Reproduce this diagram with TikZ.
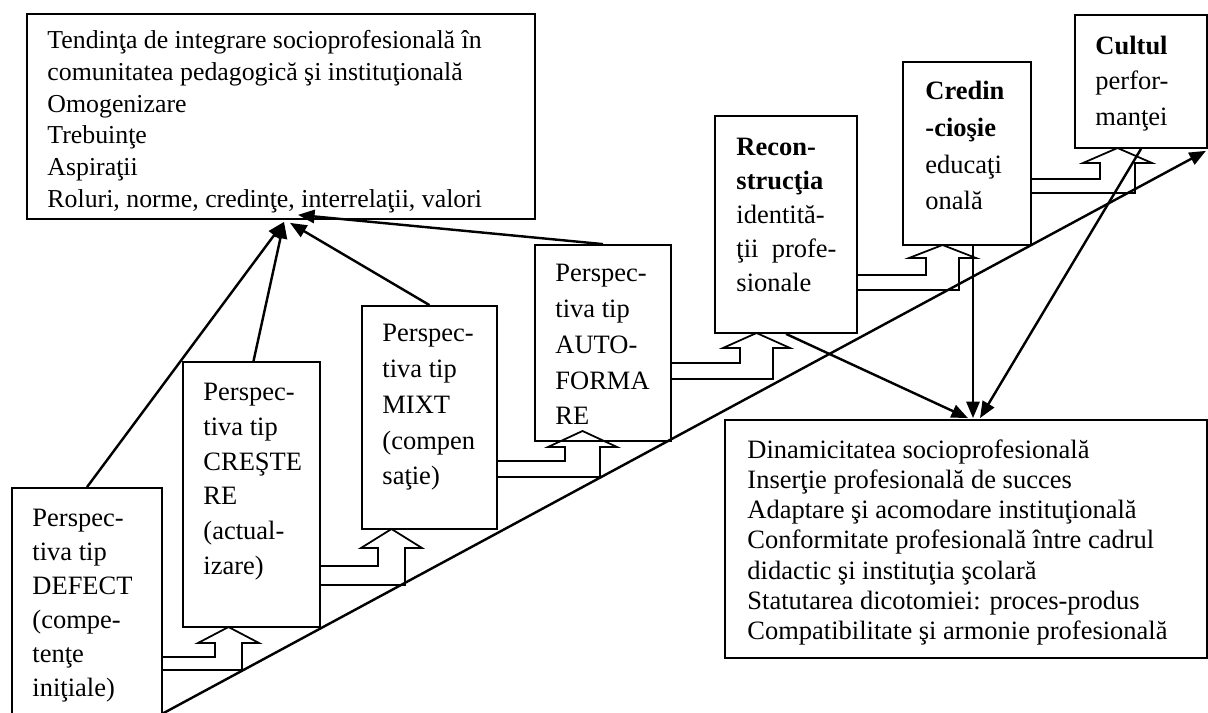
\documentclass[tikz,border=0pt]{standalone}
\usepackage{fontspec}
\setmainfont{Liberation Serif}
\usetikzlibrary{arrows.meta,fit}

\begin{document}
\begin{tikzpicture}[x=0.453pt,y=-0.453pt,
  boxline/.style={draw,line width=0.8pt,inner sep=0pt},
  txt/.style={inner sep=0pt,anchor=north west,align=left,font=\fontsize{12}{#1}\selectfont},
  txt/.default=15.5pt,
  link/.style={line width=1.1pt,-{Triangle[length=7.5pt,width=6pt]}},
  hollow/.style={line width=0.8pt,line join=miter}]

% Page size of the reference
\useasboundingbox (0,0) rectangle (1208,713);
\clip (0,0) rectangle (1208,713);

% Draw the boxes
\node[boxline, fit={(27,14) (535,219)}] (scop) {};
\node[boxline, fit={(12,488) (162,725)}] (defect) {};
\node[boxline, fit={(183,362) (320,627)}] (crest) {};
\node[boxline, fit={(362,306) (497,529)}] (mixt) {};
\node[boxline, fit={(535,245) (671,441)}] (auto) {};
\node[boxline, fit={(715,116) (857,333)}] (recon) {};
\node[boxline, fit={(903,62) (1031,245)}] (credin) {};
\node[boxline, fit={(1075,15) (1207,148)}] (cultul) {};
\node[boxline, fit={(725,420) (1207,658)}] (dyn) {};

% Add the texts
\node[txt=14.4pt, font=\fontsize{11.7}{14.4}\selectfont] (scop-t) at (47,30) {Tendinţa de integrare socioprofesională în\\
  comunitatea pedagogică şi instituţională\\ Omogenizare\\ Trebuinţe\\ Aspiraţii\\
  Roluri, norme, credinţe, interrelaţii, valori};
\node[txt=15.4pt] (defect-t) at (32,509) {Perspec-\\ tiva tip\\ DEFECT\\ (compe-\\ tenţe\\ iniţiale)};
\node[txt=15.7pt] (crest-t) at (203,383) {Perspec-\\ tiva tip\\ CREŞTE\\ RE\\ (actual-\\ izare)};
\node[txt=16.2pt] (mixt-t) at (382,324) {Perspec-\\ tiva tip\\ MIXT\\ (compen\\ saţie)};
\node[txt=16.2pt] (auto-t) at (555,264) {Perspec-\\ tiva tip\\ AUTO-\\ FORMA\\ RE};
\node[txt=15.4pt] (recon-t) at (736,138) {\textbf{Recon-}\\ \textbf{strucţia}\\ identită-\\ ţii~~profe-\\ sionale};
\node[txt=16.6pt] (credin-t) at (925,81) {\textbf{Credin}\\ \textbf{-cioşie}\\ educaţi\\ onală};
\node[txt=15.9pt] (cultul-t) at (1095,36) {\textbf{Cultul}\\ perfor-\\ manţei};
\node[txt=13.7pt] (dyn-t) at (747,439) {Dinamicitatea socioprofesională\\
  Inserţie profesională de succes\\ Adaptare şi acomodare instituţională\\
  Conformitate profesională între cadrul\\ didactic şi instituţia şcolară\\
  Statutarea dicotomiei: proces-produs\\ Compatibilitate şi armonie profesională};

% Hollow arrows between the steps
\foreach \l/\u/\yi/\yo/\xa/\xb/\yb/\yt in {defect/crest/657/670/215/242/643/627,
    crest/mixt/566/585/378/405/548/529, mixt/auto/461/477/565/600/447/431,
    auto/recon/363/379/740/773/348/333, recon/credin/275/290/926/959/258/245,
    credin/cultul/179/193/1100/1135/163/148}
  \draw[hollow] (\l.east |- 0,\yi) -- (\xa,\yi) -- (\xa,\yb) -- ({\xa-17},\yb)
    -- ({(\xa+\xb)/2},\yt) -- ({\xb+17},\yb) -- (\xb,\yb) -- (\xb,\yo) -- (\l.east |- 0,\yo);

% Arrows up to the top box
\draw[link] (defect.north) -- ([shift={(3,2)}]scop.south);
\draw[link] ([shift={(2,0)}]crest.north) -- ([shift={(3,2)}]scop.south);
\draw[link] (mixt.north) -- ([shift={(9,3)}]scop.south);
\draw[link] (auto.north) -- ([shift={(17,-5)}]scop.south);

% Arrows down to the result box
\draw[link] (recon.south) -- ([shift={(2,-1)}]dyn.north);
\draw[link] ([shift={(6,0)}]credin.south) -- ([shift={(7,-1)}]dyn.north);
\draw[link] (cultul.south) -- ([shift={(14,-1)}]dyn.north);

% The long diagonal
\coordinate (foot) at (160,715);
\draw[link] (foot) -- ([shift={(-2,2)}]cultul.south east);
\end{tikzpicture}
\end{document}
